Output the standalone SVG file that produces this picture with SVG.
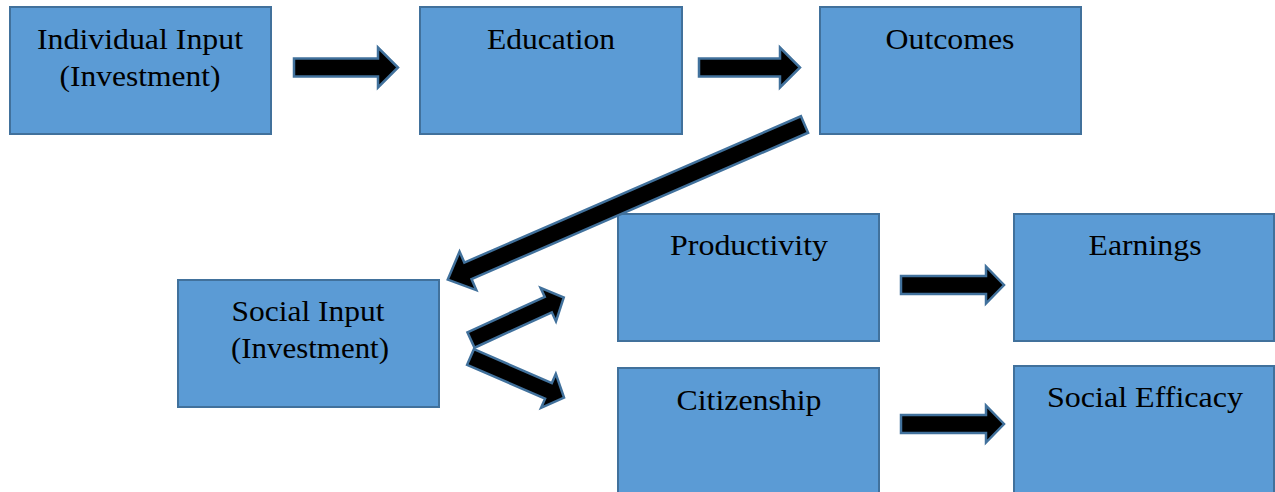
<svg xmlns="http://www.w3.org/2000/svg" width="1275" height="492" viewBox="0 0 1275 492">
  <style>
    .box { fill: #5B9BD5; stroke: #41719C; stroke-width: 2; }
    .lbl { font-family: "Liberation Serif", "Times New Roman", serif; font-size: 30px; fill: #000; text-anchor: middle; }
    .arrow { fill: #000; stroke: #41719C; stroke-width: 2.5; stroke-linejoin: miter; }
  </style>
  <rect width="1275" height="492" fill="#fff"/>

  <g id="individual-input">
    <rect class="box" x="10" y="7" width="261" height="127"/>
    <text class="lbl" x="140" y="49" textLength="206" lengthAdjust="spacingAndGlyphs">Individual Input</text>
    <text class="lbl" x="140" y="86" textLength="161" lengthAdjust="spacingAndGlyphs">(Investment)</text>
  </g>
  <g id="education">
    <rect class="box" x="420" y="7" width="262" height="127"/>
    <text class="lbl" x="551" y="49" textLength="128" lengthAdjust="spacingAndGlyphs">Education</text>
  </g>
  <g id="outcomes">
    <rect class="box" x="820" y="7" width="261" height="127"/>
    <text class="lbl" x="950" y="49" textLength="129" lengthAdjust="spacingAndGlyphs">Outcomes</text>
  </g>
  <g id="social-input">
    <rect class="box" x="178" y="280" width="261" height="127"/>
    <text class="lbl" x="308" y="321" textLength="153" lengthAdjust="spacingAndGlyphs">Social Input</text>
    <text class="lbl" x="310" y="358" textLength="158" lengthAdjust="spacingAndGlyphs">(Investment)</text>
  </g>
  <g id="productivity">
    <rect class="box" x="618" y="214" width="261" height="127"/>
    <text class="lbl" x="749" y="255" textLength="158" lengthAdjust="spacingAndGlyphs">Productivity</text>
  </g>
  <g id="earnings">
    <rect class="box" x="1014" y="214" width="260" height="127"/>
    <text class="lbl" x="1145" y="255" textLength="113" lengthAdjust="spacingAndGlyphs">Earnings</text>
  </g>
  <g id="citizenship">
    <rect class="box" x="618" y="368" width="261" height="130"/>
    <text class="lbl" x="749" y="410" textLength="145" lengthAdjust="spacingAndGlyphs">Citizenship</text>
  </g>
  <g id="social-efficacy">
    <rect class="box" x="1014" y="366" width="260" height="132"/>
    <text class="lbl" x="1145" y="407" textLength="196" lengthAdjust="spacingAndGlyphs">Social Efficacy</text>
  </g>

  <!-- block arrows, each drawn along +x from its tail and then placed -->
  <g id="connectors">
    <path class="arrow" transform="translate(294,67.5)" d="M0,-9 H84 V-20 L104,0 L84,20 V9 H0 Z"/>
    <path class="arrow" transform="translate(699,67.5)" d="M0,-9 H81 V-20 L101,0 L81,20 V9 H0 Z"/>
    <path class="arrow" transform="translate(804.5,124.5) rotate(156.5)" d="M0,-9 H367 V-21 L389,0 L367,21 V9 H0 Z"/>
    <path class="arrow" transform="translate(471,340) rotate(-24.6)" d="M0,-8.5 H85 V-18.5 L102,0 L85,18.5 V8.5 H0 Z"/>
    <path class="arrow" transform="translate(470.5,357) rotate(23.5)" d="M0,-8.5 H85 V-18.5 L102,0 L85,18.5 V8.5 H0 Z"/>
    <path class="arrow" transform="translate(901,285)" d="M0,-9 H85 V-18.5 L103,0 L85,18.5 V9 H0 Z"/>
    <path class="arrow" transform="translate(901,424)" d="M0,-9 H85 V-18.5 L103,0 L85,18.5 V9 H0 Z"/>
  </g>
</svg>
